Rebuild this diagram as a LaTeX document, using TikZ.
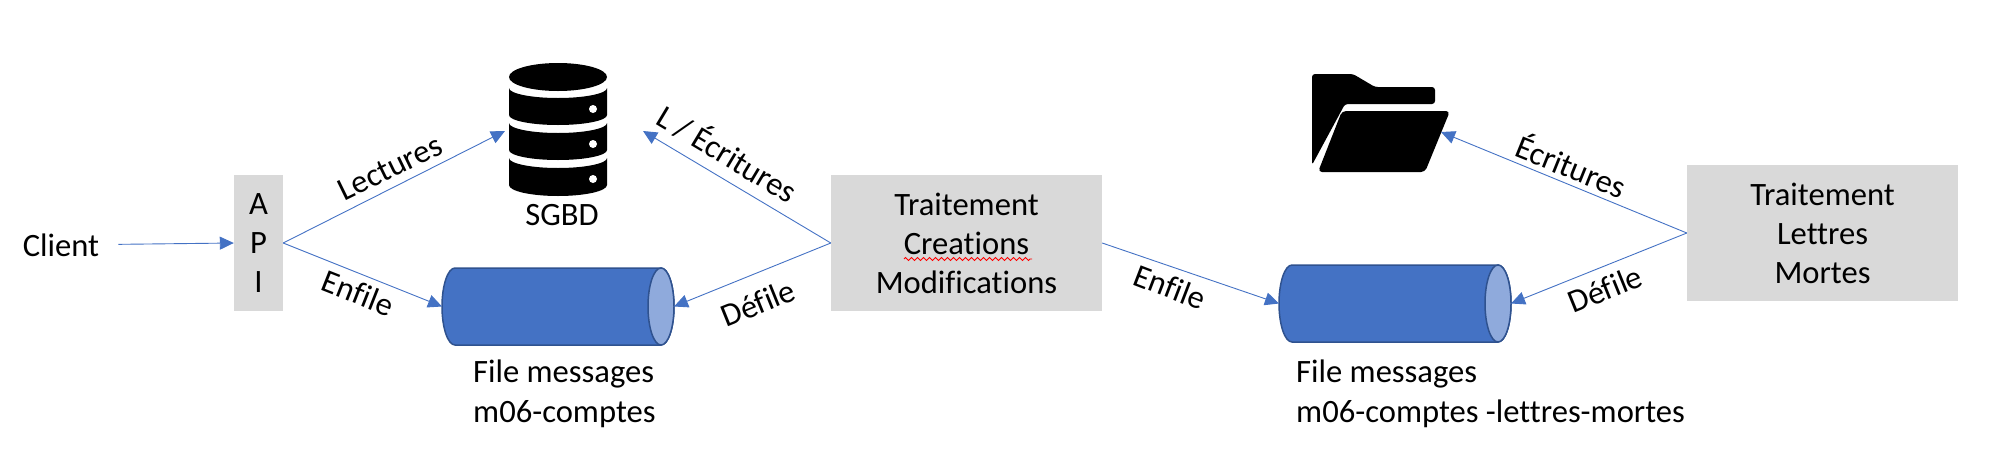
\documentclass[tikz,border=0pt]{standalone}
\usepackage{fontspec}
\setmainfont{Carlito}[RawFeature={-liga}]
\usepackage{tikz}
\usetikzlibrary{arrows.meta,decorations.pathmorphing}
\definecolor{linkblue}{HTML}{4472C4}
\definecolor{pipeedge}{HTML}{2F528F}
\definecolor{pipeend}{HTML}{8FAADC}
\definecolor{boxgray}{HTML}{D9D9D9}
\tikzstyle{line} = [draw=linkblue, line width=0.9pt, -{Triangle[length=14pt,width=13pt]}]
\tikzstyle{block} = [fill=boxgray, rectangle, text centered, align=center, inner sep=0pt, font=\fontsize{32.6}{39}\selectfont]
\tikzstyle{tag} = [inner sep=0pt, font=\fontsize{32.6}{39}\selectfont]
\tikzstyle{pipe} = [rectangle, minimum width=232pt, minimum height=77pt, inner sep=0pt, outer sep=0pt]
\tikzstyle{pipebody} = [draw=pipeedge, line width=1.5pt, fill=linkblue]
\tikzstyle{pipeface} = [draw=pipeedge, line width=1.5pt, fill=pipeend]

\begin{document}
\begin{tikzpicture}[x=1pt, y=-1pt]
        \useasboundingbox (0,0) rectangle (2000,464);
        % boxes
        \node[block, minimum width=49pt, minimum height=136pt] (api) at (258.5,243) {A\\P\\I};
        \node[block, minimum width=271pt, minimum height=136pt] (creations) at (966.5,243) {Traitement\\Creations\\Modifications};
        \node[block, minimum width=271pt, minimum height=136pt] (mortes) at (1822.5,233) {Traitement\\Lettres\\Mortes};
        \node[tag, inner xsep=19pt] (client) at (61,245) {Client};
        % queues
        \node[pipe] (file) at (558,306.5) {};
        \draw[pipebody] ([xshift=13pt]file.north west) arc [start angle=90, end angle=270, x radius=13pt, y radius=38.5pt] -- ([xshift=-13pt]file.south east) arc [start angle=270, end angle=450, x radius=13pt, y radius=38.5pt] -- cycle;
        \draw[pipeface] ([xshift=-13pt]file.east) ellipse [x radius=13pt, y radius=38.5pt];
        \node[pipe] (dead) at (1395,303.5) {};
        \draw[pipebody] ([xshift=13pt]dead.north west) arc [start angle=90, end angle=270, x radius=13pt, y radius=38.5pt] -- ([xshift=-13pt]dead.south east) arc [start angle=270, end angle=450, x radius=13pt, y radius=38.5pt] -- cycle;
        \draw[pipeface] ([xshift=-13pt]dead.east) ellipse [x radius=13pt, y radius=38.5pt];
        \node[tag, anchor=north west, align=left] (filetxt) at (473,360) {File messages\\[1pt]m06-comptes};
        \node[tag, anchor=north west, align=left] (deadtxt) at (1296,360) {File messages\\[1pt]m06-comptes -lettres-mortes};
        % database
        \coordinate (dbleft) at (505,131);
        \coordinate (dbright) at (643,131);
        \fill (558,77) ellipse [x radius=49pt, y radius=14pt];
        \fill (509,88) arc [start angle=180, end angle=360, x radius=49pt, y radius=10pt] -- (607,115) arc [start angle=0, end angle=-180, x radius=49pt, y radius=10pt] -- cycle;
        \fill (509,123) arc [start angle=180, end angle=360, x radius=49pt, y radius=10pt] -- (607,150) arc [start angle=0, end angle=-180, x radius=49pt, y radius=10pt] -- cycle;
        \fill (509,158) arc [start angle=180, end angle=360, x radius=49pt, y radius=10pt] -- (607,185) arc [start angle=0, end angle=-180, x radius=49pt, y radius=11pt] -- cycle;
        \fill[white] (593,109) circle (4pt);
        \fill[white] (593,144) circle (4pt);
        \fill[white] (593,179) circle (4pt);
        \node[tag] (sgbd) at (562,215) {SGBD};
        % folder
        \coordinate (folderin) at (1441,132);
        \fill[rounded corners=3pt] (1312,165) -- (1312,74) -- (1353,74) -- (1375,87) -- (1435,87) -- (1435,104) -- (1345,104) -- cycle;
        \fill[rounded corners=4pt] (1342,111) -- (1450,111) -- (1425,172) -- (1318,172) -- cycle;
        % spell check mark
        \draw[red, line width=0.8pt, decorate, decoration={zigzag, segment length=6pt, amplitude=1.5pt}] (904,259) -- (1032,259);
        % connectors
        \path[line] (client) -- (api.west);
        \path[line] (api.east) -- (dbleft);
        \path[line] (api.east) -- (file.west);
        \path[line] (creations.west) -- (dbright);
        \path[line] (creations.west) -- (file.east);
        \path[line] (creations.east) -- (dead.west);
        \path[line] (mortes.west) -- (folderin);
        \path[line] (mortes.west) -- (dead.east);
        % connector labels
        \node[tag, rotate=26] (lectures) at (390,168) {Lectures};
        \node[tag, rotate=-21.5] (enfileone) at (358,293) {Enfile};
        \node[tag, rotate=-31] (mixte) at (728,153) {L / Écritures};
        \node[tag, rotate=22] (defileone) at (758,303) {Défile};
        \node[tag, rotate=-21] (enfiletwo) at (1170,287) {Enfile};
        \node[tag, rotate=-22] (ecritures) at (1572,165) {Écritures};
        \node[tag, rotate=22] (defiletwo) at (1605,289) {Défile};
    \end{tikzpicture}
\end{document}
